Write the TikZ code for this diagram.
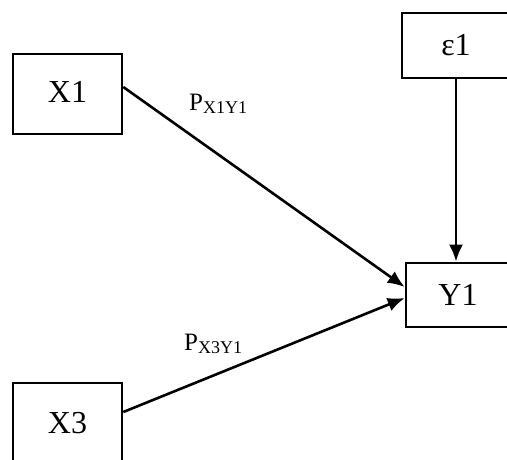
\documentclass[tikz,border=0pt]{standalone}
\usepackage{fontspec}
\setmainfont{Liberation Serif}
\usetikzlibrary{calc,arrows.meta}
\tikzset{
  box/.style={draw=black, line width=2.6pt, fill=white, inner sep=0pt, font=\fontsize{32}{36}\selectfont},
  conn/.style={draw=black, line width=2.6pt, -{Latex[length=17pt,width=14pt]}},
  plabel/.style={inner sep=0pt, anchor=base west}
}
\newcommand{\pl}[1]{{\fontsize{25}{28}\selectfont P}\raisebox{-3pt}{\fontsize{18}{20}\selectfont #1}}
\begin{document}
\begin{tikzpicture}[x=1pt,y=-1pt]
\useasboundingbox (0,0) rectangle (507,459);
\clip (0,0) rectangle (507,459);
\node[box, minimum width=109pt, minimum height=80pt] (x1) at (67.5,94) {\raisebox{5pt}{X1}};
\node[box, minimum width=109pt, minimum height=80pt] (x3) at (67.5,423) {\raisebox{-2pt}{X3}};
\node[box, minimum width=108pt, minimum height=65pt] (eps) at (456,45.5) {ε1};
\node[box, minimum width=104pt, minimum height=64pt] (y1) at (458,295) {Y1};
\draw[conn] ($(x1.east)+(0,-7)$) -- ($(y1.west)+(0,-8)$);
\draw[conn] ($(x3.east)+(0,-11)$) -- ($(y1.west)+(0,3)$);
\draw[conn] (eps.south) -- (eps.south |- y1.north);
\node[plabel] (p1) at (189,110) {\pl{X1Y1}};
\node[plabel] (p3) at (184,350) {\pl{X3Y1}};
\end{tikzpicture}
\end{document}
